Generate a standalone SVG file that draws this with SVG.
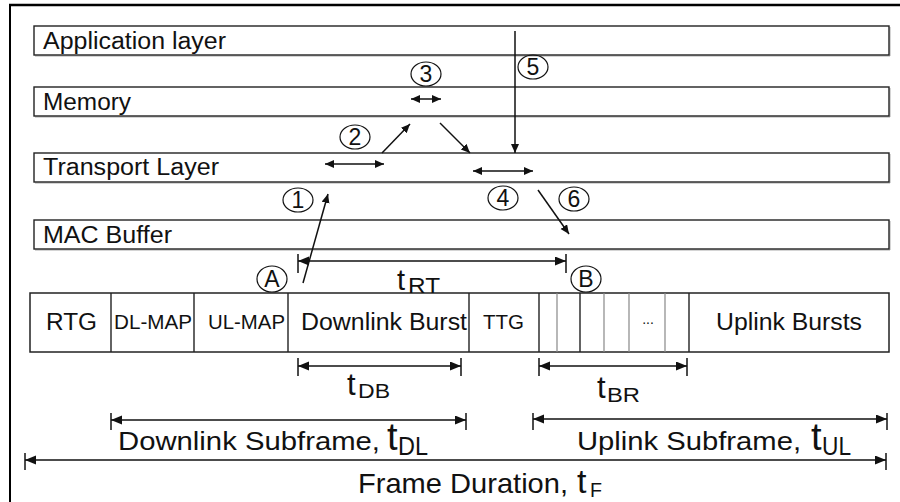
<svg xmlns="http://www.w3.org/2000/svg" width="900" height="502" viewBox="0 0 900 502">
<style>
text{font-family:"Liberation Sans",Arial,sans-serif;fill:#111}
.layer{fill:#fff;stroke:#222;stroke-width:1.4}
.shadow{fill:none;stroke:#aaa;stroke-width:1}
.lbl{font-size:23px}
.sm{font-size:20px}
.num{font-size:23px;text-anchor:middle}
.circ{fill:none;stroke:#111;stroke-width:1.2}
.ln{stroke:#111;stroke-width:1.5;fill:none}
.tick{stroke:#111;stroke-width:1.5}
.cell{stroke:#222;stroke-width:1.4}
.cellg{stroke:#888;stroke-width:1.2}
</style>
<defs>
<marker id="ah" markerUnits="userSpaceOnUse" markerWidth="12" markerHeight="10" refX="11" refY="4.5" orient="auto-start-reverse">
<path d="M0,0 L11,4.5 L0,9 z" fill="#111"/>
</marker>
<marker id="ahs" markerUnits="userSpaceOnUse" markerWidth="10" markerHeight="9" refX="9" refY="4" orient="auto-start-reverse">
<path d="M0,0 L9,4 L0,8 z" fill="#111"/>
</marker>
</defs>

<!-- outer frame -->
<g id="frame">
<line x1="9" y1="5" x2="900" y2="5" stroke="#000" stroke-width="2.5"/>
<line x1="10" y1="4" x2="10" y2="502" stroke="#000" stroke-width="2"/>
</g>

<!-- layers -->
<g id="app-layer">
<polyline class="shadow" points="890,27 890,56 35,56"/>
<rect class="layer" x="34" y="26" width="855" height="29"/>
<text class="lbl" x="43" y="49" textLength="183" lengthAdjust="spacingAndGlyphs">Application layer</text>
</g>
<g id="memory">
<polyline class="shadow" points="890,88 890,117 35,117"/>
<rect class="layer" x="34" y="87" width="855" height="29"/>
<text class="lbl" x="43" y="110" textLength="88" lengthAdjust="spacingAndGlyphs">Memory</text>
</g>
<g id="transport-layer">
<polyline class="shadow" points="890,154 890,183 35,183"/>
<rect class="layer" x="34" y="153" width="855" height="29"/>
<text class="lbl" x="43" y="175" textLength="176" lengthAdjust="spacingAndGlyphs">Transport Layer</text>
</g>
<g id="mac-buffer">
<polyline class="shadow" points="890,221 890,250 35,250"/>
<rect class="layer" x="34" y="220" width="855" height="29"/>
<text class="lbl" x="43" y="243" textLength="129" lengthAdjust="spacingAndGlyphs">MAC Buffer</text>
</g>

<!-- frame structure -->
<g id="frame-row">
<rect x="30" y="293" width="859" height="59" fill="#fff" stroke="#222" stroke-width="1.5"/>
<line class="cell" x1="111" y1="293" x2="111" y2="352"/>
<line class="cell" x1="194" y1="293" x2="194" y2="352"/>
<line class="cell" x1="288" y1="293" x2="288" y2="352"/>
<line class="cell" x1="469" y1="293" x2="469" y2="352"/>
<line class="cell" x1="539" y1="293" x2="539" y2="352"/>
<line class="cellg" x1="557" y1="293" x2="557" y2="352"/>
<line class="cell" x1="580" y1="293" x2="580" y2="352"/>
<line class="cellg" x1="604" y1="293" x2="604" y2="352"/>
<line class="cellg" x1="629" y1="293" x2="629" y2="352"/>
<line class="cellg" x1="665" y1="293" x2="665" y2="352"/>
<line class="cell" x1="689" y1="293" x2="689" y2="352"/>
<text class="lbl" x="46" y="330" textLength="51" lengthAdjust="spacingAndGlyphs">RTG</text>
<text class="sm" x="114" y="329" textLength="78" lengthAdjust="spacingAndGlyphs">DL-MAP</text>
<text class="sm" x="208" y="329" textLength="77" lengthAdjust="spacingAndGlyphs">UL-MAP</text>
<text class="lbl" x="301" y="330" textLength="166" lengthAdjust="spacingAndGlyphs">Downlink Burst</text>
<text class="sm" x="483" y="329" textLength="41" lengthAdjust="spacingAndGlyphs">TTG</text>
<text x="648" y="324" font-size="14" text-anchor="middle">...</text>
<text class="lbl" x="716" y="330" textLength="146" lengthAdjust="spacingAndGlyphs">Uplink Bursts</text>
</g>

<!-- step markers -->
<g id="step-1"><ellipse class="circ" cx="298" cy="200" rx="15" ry="12"/><text class="num" x="298" y="208">1</text></g>
<g id="step-2"><ellipse class="circ" cx="355" cy="137" rx="15" ry="12"/><text class="num" x="355" y="145">2</text></g>
<g id="step-3"><ellipse class="circ" cx="426" cy="74" rx="15" ry="12"/><text class="num" x="426" y="82">3</text></g>
<g id="step-4"><ellipse class="circ" cx="503" cy="198" rx="15" ry="12"/><text class="num" x="503" y="206">4</text></g>
<g id="step-5"><ellipse class="circ" cx="533" cy="67" rx="15" ry="12"/><text class="num" x="533" y="75">5</text></g>
<g id="step-6"><ellipse class="circ" cx="574" cy="199" rx="15" ry="12"/><text class="num" x="574" y="207">6</text></g>
<g id="point-A"><ellipse class="circ" cx="272" cy="279" rx="15" ry="13"/><text class="num" x="272" y="287" font-size="21">A</text></g>
<g id="point-B"><ellipse class="circ" cx="586" cy="279" rx="15" ry="13"/><text class="num" x="586" y="287" font-size="21">B</text></g>

<!-- connectors -->
<g id="connectors">
<line class="ln" x1="303" y1="283" x2="328" y2="194" marker-end="url(#ahs)"/>
<line class="ln" x1="382" y1="153" x2="410" y2="124" marker-end="url(#ahs)"/>
<line class="ln" x1="440" y1="123" x2="470" y2="153" marker-end="url(#ahs)"/>
<line class="ln" x1="515" y1="31" x2="515" y2="153" marker-end="url(#ahs)"/>
<line class="ln" x1="538" y1="190" x2="569" y2="234" marker-end="url(#ahs)"/>
<line class="ln" x1="411" y1="99" x2="441" y2="99" marker-start="url(#ahs)" marker-end="url(#ahs)"/>
<line class="ln" x1="325" y1="164" x2="384" y2="164" marker-start="url(#ahs)" marker-end="url(#ahs)"/>
<line class="ln" x1="473" y1="171" x2="533" y2="171" marker-start="url(#ahs)" marker-end="url(#ahs)"/>
</g>

<!-- dimension lines -->
<g id="dim-RT">
<line class="tick" x1="298" y1="254" x2="298" y2="273"/>
<line class="tick" x1="566" y1="254" x2="566" y2="273"/>
<line class="ln" x1="298" y1="261" x2="566" y2="261" marker-start="url(#ah)" marker-end="url(#ah)"/>
<text x="397" y="290" font-size="29">t</text><text x="408" y="293" font-size="22" textLength="32" lengthAdjust="spacingAndGlyphs">RT</text>
</g>
<g id="dim-DB">
<line class="tick" x1="298" y1="358" x2="298" y2="376"/>
<line class="tick" x1="461" y1="358" x2="461" y2="376"/>
<line class="ln" x1="298" y1="366" x2="461" y2="366" marker-start="url(#ah)" marker-end="url(#ah)"/>
<text x="347" y="395" font-size="31">t</text><text x="358" y="398" font-size="20" textLength="32" lengthAdjust="spacingAndGlyphs">DB</text>
</g>
<g id="dim-BR">
<line class="tick" x1="539" y1="358" x2="539" y2="376"/>
<line class="tick" x1="687" y1="358" x2="687" y2="376"/>
<line class="ln" x1="539" y1="366" x2="687" y2="366" marker-start="url(#ah)" marker-end="url(#ah)"/>
<text x="597" y="398" font-size="31">t</text><text x="607" y="402" font-size="20" textLength="33" lengthAdjust="spacingAndGlyphs">BR</text>
</g>
<g id="dim-DL">
<line class="tick" x1="111" y1="413" x2="111" y2="430"/>
<line class="tick" x1="466" y1="413" x2="466" y2="430"/>
<line class="ln" x1="111" y1="420" x2="466" y2="420" marker-start="url(#ah)" marker-end="url(#ah)"/>
<text x="118" y="450" font-size="25" textLength="262" lengthAdjust="spacingAndGlyphs">Downlink Subframe,</text>
<text x="387" y="450" font-size="38">t</text><text x="398" y="455" font-size="25" textLength="30" lengthAdjust="spacingAndGlyphs">DL</text>
</g>
<g id="dim-UL">
<line class="tick" x1="533" y1="413" x2="533" y2="430"/>
<line class="tick" x1="887" y1="413" x2="887" y2="430"/>
<line class="ln" x1="533" y1="419" x2="887" y2="419" marker-start="url(#ah)" marker-end="url(#ah)"/>
<text x="577" y="450" font-size="25" textLength="224" lengthAdjust="spacingAndGlyphs">Uplink Subframe,</text>
<text x="811" y="450" font-size="38">t</text><text x="822" y="455" font-size="25" textLength="29" lengthAdjust="spacingAndGlyphs">UL</text>
</g>
<g id="dim-F">
<line class="tick" x1="25" y1="453" x2="25" y2="470"/>
<line class="tick" x1="886" y1="453" x2="886" y2="470"/>
<line class="ln" x1="25" y1="460" x2="886" y2="460" marker-start="url(#ah)" marker-end="url(#ah)"/>
<text x="358" y="493" font-size="28" textLength="210" lengthAdjust="spacingAndGlyphs">Frame Duration,</text>
<text x="577" y="493" font-size="34">t</text><text x="590" y="497" font-size="20" textLength="12" lengthAdjust="spacingAndGlyphs">F</text>
</g>
</svg>
